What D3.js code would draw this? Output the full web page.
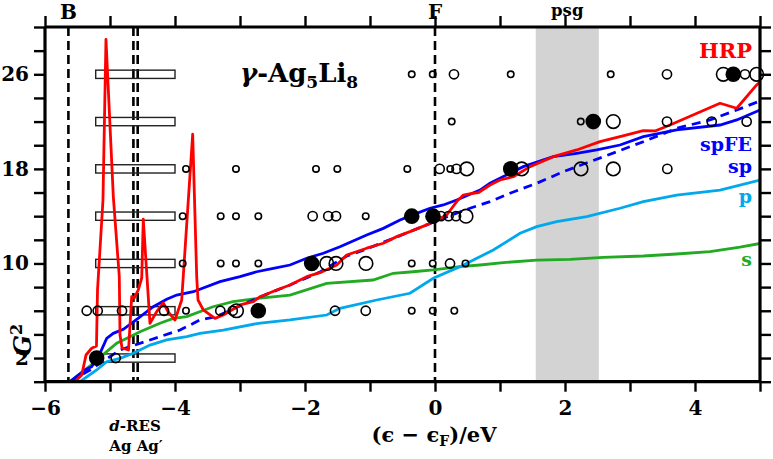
<!DOCTYPE html>
<html><head><meta charset="utf-8">
<script src="https://cdn.jsdelivr.net/npm/d3@7"></script>
<style>
body{margin:0;background:#fff}
svg{display:block}
text{font-family:"DejaVu Serif",serif;font-weight:bold}
</style>
</head><body><svg id="c" width="773" height="459"></svg>
<script>
// ---------- data ----------
const xTicks = [-6,-5,-4,-3,-2,-1,0,1,2,3,4,5];
const xTickLabels = [-6,-4,-2,0,2,4];
const yTicks = [0,2,4,6,8,10,12,14,16,18,20,22,24,26,28,30];
const yTickLabels = [2,10,18,26];

const markerLines = [-5.64,-4.64,-4.574,0];   // B, Ag, Ag', F
const psgBand = [1.55,2.52];
const dresRows = [2,6,10,14,18,22,26];
const dresRange = [-5.22,-4.0];

const hrpX = [-5.538,-5.435,-5.369,-5.282,-5.208,-5.192,-5.108,-5.062,-4.949,-4.857,-4.846,-4.815,-4.715,-4.666,-4.623,-4.565,-4.512,-4.488,-4.385,-4.282,-4.18,-4.108,-4.0,-3.897,-3.728,-3.666,-3.646,-3.565,-3.385,-3.257,-3.0,-2.795,-2.692,-2.435,-2.231,-1.974,-1.769,-1.512,-1.358,-1.051,-0.795,-0.589,-0.385,-0.128,0.026,0.18,0.334,0.435,0.55,0.67,0.846,1.0,1.205,1.462,1.82,2.18,2.538,2.846,3.205,3.385,3.615,4.385,4.642,4.949,5.0];
const hrpY = [0,0.57,2.26,2.83,3.02,7.76,15.37,28.96,15.65,8.88,3.95,2.85,2.68,7.19,7.12,7.76,8.77,13.74,4.94,5.92,6.66,5.92,5.22,6.91,20.93,8.88,6.91,6.07,5.36,5.64,6.49,6.77,7.19,7.76,8.18,8.88,9.22,9.87,10.72,11.29,11.71,12.27,12.69,13.26,13.68,14.10,15.23,15.79,15.9,16.0,16.64,17.06,17.34,18.19,19.03,19.60,20.30,20.72,21.23,21.21,21.71,23.55,23.13,25.10,25.35];

const spfeX = [-5.615,-5.385,-5.282,-5.154,-5.051,-4.949,-4.795,-4.589,-4.334,-4.128,-3.974,-3.718,-3.308,-3.0,-2.743,-2.488,-2.231,-1.974,-1.718,-1.462,-1.051,-0.795,-0.538,-0.282,-0.077,0.128,0.334,0.692,0.846,1.154,1.358,1.82,2.18,2.488,2.846,3.205,3.718,4.385,4.642,5.0];
const spfeY = [0,0.99,1.27,2.40,3.67,4.09,4.43,5.28,6.34,6.97,7.33,7.61,8.46,8.88,9.30,9.59,9.87,10.44,10.86,11.42,12.41,12.97,13.68,14.24,14.67,14.95,15.37,16.21,16.78,17.63,18.19,19.03,19.32,19.60,20.02,20.72,21.29,21.71,22.14,22.98];

const spX = [-5.615,-5.308,-4.846,-4.385,-3.923,-3.615,-3.385,-3.0,-2.692,-2.231,-1.769,-1.358,-1.051,-0.589,-0.128,0.18,0.538,0.846,1.154,1.565,1.974,2.385,2.795,3.205,3.718,4.231,4.642,5.0];
const spY = [0,0.99,2.68,3.53,4.37,5.22,5.47,6.40,7.17,8.18,9.28,10.63,11.23,12.24,13.26,13.94,14.67,15.23,15.94,16.78,17.76,18.61,19.45,20.30,21.43,22.14,22.98,23.74];

const sX = [-5.615,-5.257,-5.051,-4.897,-4.795,-4.538,-4.231,-4.026,-3.82,-3.415,-3.108,-2.723,-2.231,-1.666,-0.954,-0.642,-0.338,-0.026,0.385,0.692,1.051,1.565,2.077,2.589,3.205,3.718,4.231,4.692,5.0];
const sY = [0,1.56,2.54,3.25,3.53,4.23,4.94,5.36,5.50,6.34,6.77,7.05,7.33,8.32,8.60,9.17,9.30,9.45,9.73,9.87,10.07,10.29,10.35,10.52,10.63,10.80,11.0,11.39,11.69];

const pX = [-5.462,-5.205,-5.051,-4.846,-4.641,-4.385,-4.128,-3.82,-3.615,-3.257,-2.718,-2.231,-1.666,-1.462,-0.897,-0.385,-0.026,0.385,0.897,1.308,1.565,1.872,2.334,2.846,3.205,3.718,4.385,5.0];
const pY = [0,0.99,1.69,1.98,2.40,3.10,3.53,3.81,4.09,4.37,4.94,5.22,5.64,6.21,6.91,7.48,8.75,9.73,11.14,12.55,13.11,13.53,13.96,14.67,15.23,15.79,16.21,17.06];

// circles: s = small open, m = medium open, l = large open, f = filled
const circX = [
 -0.358,-0.035,0.292,1.165,2.703,3.569,4.435,4.589,4.769,4.949,
 0.257,2.242,2.435,2.743,3.569,4.257,4.795,
 -3.831,-3.062,-1.831,-1.503,-0.426,0.072,0.235,0.331,0.488,1.165,1.334,2.246,2.743,3.574,
 -3.882,-3.297,-3.062,-2.718,-1.882,-1.642,-1.523,-1.066,-0.358,-0.031,0.092,0.208,0.323,0.477,
 -3.882,-3.297,-3.062,-2.718,-1.897,-1.666,-1.523,-1.062,-0.358,-0.035,0.231,0.469,
 -5.358,-5.189,-4.815,-4.169,-3.831,-3.303,-3.112,-3.054,-2.718,-1.538,-1.066,-0.358,-0.035,0.297,
 -5.205,-4.912];
const circY = [
 26,26,26,26,26,26,26,26,26,26,
 22,22,22,22,22,22,22,
 18,18,18,18,18,18,18,18,18,18,18,18,18,18,
 14,14,14,14,14,14,14,14,14,14,14,14,14,14,
 10,10,10,10,10,10,10,10,10,10,10,10,
 6,6,6,6,6,6,6,6,6,6,6,6,6,6,
 2,2];
const circKind = [
 's','s','m','s','s','m','l','f','m','l',
 's','s','f','l','m','m','m',
 's','s','s','s','s','m','s','m','l','f','l','l','l','m',
 's','s','s','s','m','m','m','s','f','f','m','m','m','l',
 's','s','s','s','f','l','l','l','s','s','m','s',
 'm','m','m','m','s','m','m','l','f','m','m','s','s','s',
 'f','m'];

const seriesNames = ["HRP","spFE","sp","p","s"];
const seriesColors = ["#ff0000","#0000ff","#0000ff","#00a8ec","#22aa22"];

// ---------- layout ----------
const L = 45, R = 760, T = 27, B = 381.7;
const svg = d3.select("#c");
const x = d3.scaleLinear().domain([-6,5]).range([L,R]);
const y = d3.scaleLinear().domain([0,30]).range([B,T]);

const defs = svg.append("defs");
defs.append("clipPath").attr("id","clip").append("rect")
  .attr("x",L).attr("y",T).attr("width",R-L).attr("height",B-T);
const g = svg.append("g").attr("clip-path","url(#clip)");

// psg band
g.append("rect").attr("x",x(psgBand[0])).attr("y",T)
  .attr("width",x(psgBand[1])-x(psgBand[0])).attr("height",B-T)
  .attr("fill","#d3d3d3");

// dashed markers
g.selectAll("line.mk").data(markerLines).join("line")
  .attr("x1",d=>x(d)).attr("x2",d=>x(d)).attr("y1",T).attr("y2",B)
  .attr("stroke","#000").attr("stroke-width",2.6).attr("stroke-dasharray","9,5");

// d-RES rectangles
g.selectAll("rect.dres").data(dresRows).join("rect")
  .attr("x",x(dresRange[0])).attr("width",x(dresRange[1])-x(dresRange[0]))
  .attr("y",d=>y(d+0.35)).attr("height",d=>y(d-0.35)-y(d+0.35))
  .attr("fill","none").attr("stroke","#222").attr("stroke-width",1.4);

// curves
const line = d3.line().x(d=>x(d[0])).y(d=>y(d[1]));
const zip = (a,b)=>a.map((v,i)=>[v,b[i]]);
g.append("path").datum(zip(sX,sY)).attr("d",line).attr("fill","none").attr("stroke",seriesColors[4]).attr("stroke-width",2.8);
g.append("path").datum(zip(pX,pY)).attr("d",line).attr("fill","none").attr("stroke",seriesColors[3]).attr("stroke-width",2.8);
g.append("path").datum(zip(spX,spY)).attr("d",line).attr("fill","none").attr("stroke",seriesColors[2]).attr("stroke-width",2.8).attr("stroke-dasharray","9,6");
g.append("path").datum(zip(spfeX,spfeY)).attr("d",line).attr("fill","none").attr("stroke",seriesColors[1]).attr("stroke-width",2.8);
g.append("path").datum(zip(hrpX,hrpY)).attr("d",line).attr("fill","none").attr("stroke",seriesColors[0]).attr("stroke-width",2.8).attr("stroke-linejoin","round");

// circles
const rad = {s:3.2,m:4.6,l:6.8,f:7.8};
const circles = circX.map((v,i)=>({x:v,y:circY[i],k:circKind[i]}));
svg.append("g").selectAll("circle").data(circles).join("circle")
  .attr("cx",d=>x(d.x)).attr("cy",d=>y(d.y)).attr("r",d=>rad[d.k])
  .attr("fill",d=>d.k==='f'?"#000":"none")
  .attr("stroke","#000").attr("stroke-width",d=>d.k==='f'?0:1.6);

// axes
const ax = svg.append("g");
const axB = ax.append("g").attr("transform",`translate(0,${B})`)
  .call(d3.axisBottom(x).tickValues(xTicks).tickSize(10).tickPadding(9)
    .tickFormat(d=>xTickLabels.includes(d)?String(d).replace("-","\u2212"):""));
const axT = ax.append("g").attr("transform",`translate(0,${T})`)
  .call(d3.axisTop(x).tickValues(xTicks).tickSize(11).tickFormat(""));
const axL = ax.append("g").attr("transform",`translate(${L},0)`)
  .call(d3.axisLeft(y).tickValues(yTicks).tickSize(11).tickPadding(5)
    .tickFormat(d=>yTickLabels.includes(d)?String(d):""));
const axR = ax.append("g").attr("transform",`translate(${R},0)`)
  .call(d3.axisRight(y).tickValues(yTicks).tickSize(11).tickFormat(""));
[axB,axT,axL,axR].forEach(a=>{
  a.select(".domain").attr("stroke","#000").attr("stroke-width",3.2);
  a.selectAll(".tick line").attr("stroke","#000").attr("stroke-width",2.4);
  a.selectAll(".tick text").attr("fill","#000").style("font-family","DejaVu Serif").style("font-weight","bold").style("font-size","20px");
});
axB.select(".domain").attr("d",`M${L},0H${R}`);
axT.select(".domain").attr("d",`M${L},0H${R}`);
axL.select(".domain").attr("d",`M0,${T}V${B}`);
axR.select(".domain").attr("d",`M0,${T}V${B}`);

// labels
const txt = (s,px,py,opts={})=>{
  const t = svg.append("text").attr("x",px).attr("y",py)
    .attr("text-anchor",opts.anchor||"middle")
    .style("font-size",(opts.size||18)+"px").attr("fill",opts.color||"#000");
  if(opts.italic) t.style("font-style","italic");
  t.text(s); return t;
};
txt("B",x(markerLines[0]),19,{size:20});
txt("F",x(markerLines[3]),19,{size:20});
txt("psg",x((psgBand[0]+psgBand[1])/2),15.5,{size:16.5});

// title
const title = svg.append("text").attr("x",240).attr("y",82).style("font-size","26px");
title.append("tspan").text("γ").style("font-style","italic");
title.append("tspan").text("-Ag");
title.append("tspan").text("5").attr("dy",6).style("font-size","17px");
title.append("tspan").text("Li").attr("dy",-6);
title.append("tspan").text("8").attr("dy",6).style("font-size","17px");

// legend labels
const legY = [58,151,173,203,266];
const legSize = [21,19,19,19,19];
seriesNames.forEach((n,i)=>txt(n,752,legY[i],{anchor:"end",color:seriesColors[i],size:legSize[i]}));

// axis labels
const xl = svg.append("text").attr("x",434).attr("y",442).attr("text-anchor","middle").style("font-size","21px");
xl.append("tspan").text("(ϵ − ϵ");
xl.append("tspan").text("F").attr("dy",4).style("font-size","14px");
xl.append("tspan").text(")/eV").attr("dy",-4);

const yl = svg.append("text").attr("transform","translate(31,340) rotate(-90)").attr("text-anchor","middle").style("font-size","25px");
yl.append("tspan").text("G").style("font-style","italic");
yl.append("tspan").text("2").attr("dy",-9).style("font-size","16px");

const dr = svg.append("text").attr("x",135).attr("y",431).attr("text-anchor","middle").style("font-size","15px");
dr.append("tspan").text("d").style("font-style","italic");
dr.append("tspan").text("-RES");
txt("Ag Ag′",136,451,{size:15});
</script>
</body></html>
